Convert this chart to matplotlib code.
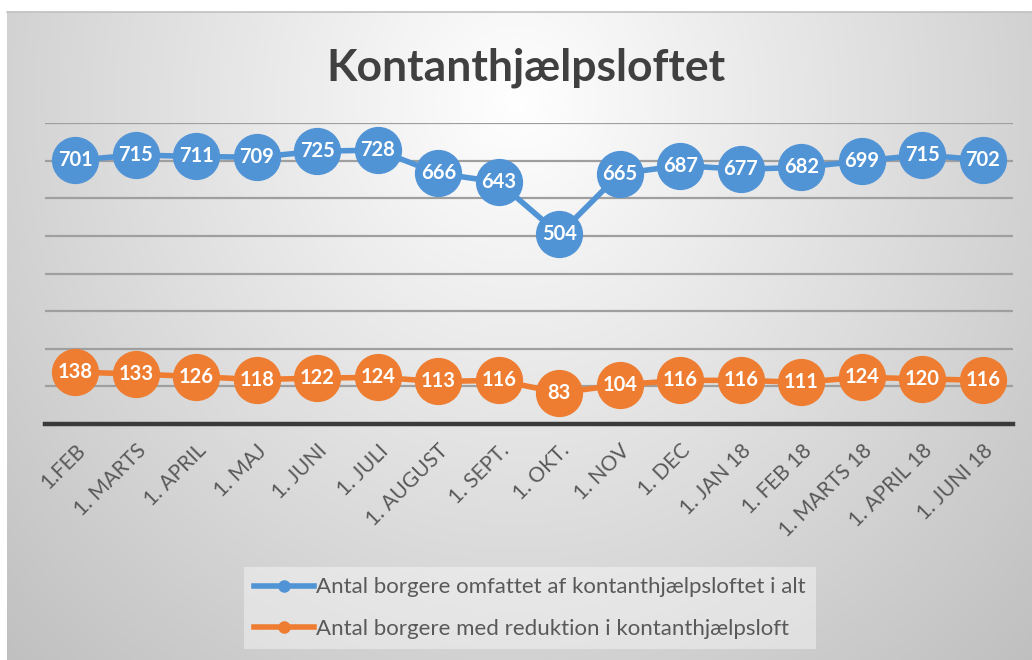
import numpy as np
import matplotlib
matplotlib.use("Agg")
import matplotlib.pyplot as plt
from matplotlib.lines import Line2D

categories = ["1.FEB", "1. MARTS", "1. APRIL", "1. MAJ", "1. JUNI", "1. JULI",
              "1. AUGUST", "1. SEPT.", "1. OKT.", "1. NOV", "1. DEC", "1. JAN 18",
              "1. FEB 18", "1. MARTS 18", "1. APRIL 18", "1. JUNI 18"]
total = [701, 715, 711, 709, 725, 728, 666, 643, 504, 665, 687, 677, 682, 699, 715, 702]
reduced = [138, 133, 126, 118, 122, 124, 113, 116, 83, 104, 116, 116, 111, 124, 120, 116]
series_names = ["Antal borgere omfattet af kontanthjælpsloftet i alt",
                "Antal borgere med reduktion i kontanthjælpsloft"]
title = "Kontanthjælpsloftet"

BLUE = "#5194d6"
ORANGE = "#ee7d31"
FONT = "Lato"

W, H = 1032, 660
fig = plt.figure(figsize=(W / 100, H / 100), dpi=100, facecolor="white")

# background radial gradient panel
x0, y0 = 7, 12
bg = fig.add_axes([x0 / W, 0, 1 - x0 / W, 1 - y0 / H])
bg.set_axis_off()
yy, xx = np.mgrid[y0:H, x0:W]
dx = (xx - 516) / 516.0
dy = (yy - 100) / 560.0
d = np.sqrt(dx ** 2 + dy ** 2)
v = np.clip(1 - (45 * d) / 255.0, 0, 1)
bg.imshow(np.dstack([v, v, v]), aspect="auto", extent=[0, 1, 0, 1], origin="upper")
bg.set_xlim(0, 1)
bg.set_ylim(0, 1)
fig.add_artist(Line2D([x0 / W, 1], [1 - y0 / H, 1 - y0 / H], color="#c0c0c0", lw=1.2))

ax = fig.add_axes([45 / W, 1 - 424 / H, (1013 - 45) / W, (424 - 123) / H])
ax.patch.set_alpha(0)
x = np.arange(len(categories))
ax.set_xlim(-0.5, len(categories) - 0.5)
ax.set_ylim(0, 800)
ax.set_yticks(np.arange(100, 801, 100))
for yv in range(100, 801, 100):
    ax.axhline(yv, color="#9f9f9f", lw=1.6, zorder=1)
ax.axhline(0, color="#3a3a3a", lw=3.2, zorder=2, clip_on=False)
for s in ax.spines.values():
    s.set_visible(False)
ax.tick_params(axis="y", left=False, labelleft=False)
ax.tick_params(axis="x", length=0, pad=12)
ax.set_xticks(x)
ax.set_xticklabels(categories, rotation=45, ha="right", va="top",
                   rotation_mode="anchor", fontsize=15, color="#595959",
                   family=FONT)

for data, col in ((total, BLUE), (reduced, ORANGE)):
    ax.plot(x, data, color=col, lw=4, marker="o", markersize=33,
            markerfacecolor=col, markeredgecolor=col, zorder=3, clip_on=False)
    for xi, val in zip(x, data):
        ax.text(xi, val, str(val), ha="center", va="center", color="white",
                fontsize=14.5, fontweight="bold", family=FONT, zorder=4)

fig.text(526 / W, 1 - 68 / H, title, ha="center", va="center", fontsize=32,
         fontweight="bold", color="#404040", family=FONT)

handles = [Line2D([0], [0], color=BLUE, lw=4, marker="o", markersize=8),
           Line2D([0], [0], color=ORANGE, lw=4, marker="o", markersize=8)]
leg = fig.legend(handles, series_names, loc="center", bbox_to_anchor=(530 / W, 1 - 608 / H),
                 frameon=True, fancybox=False, framealpha=0.4, facecolor="white",
                 edgecolor="none", handlelength=2.7, handletextpad=0.1,
                 labelspacing=0.95, borderpad=0.45,
                 prop={"family": FONT, "size": 16})
for t in leg.get_texts():
    t.set_color("#595959")

fig.savefig("out.png", dpi=100, facecolor="white")
